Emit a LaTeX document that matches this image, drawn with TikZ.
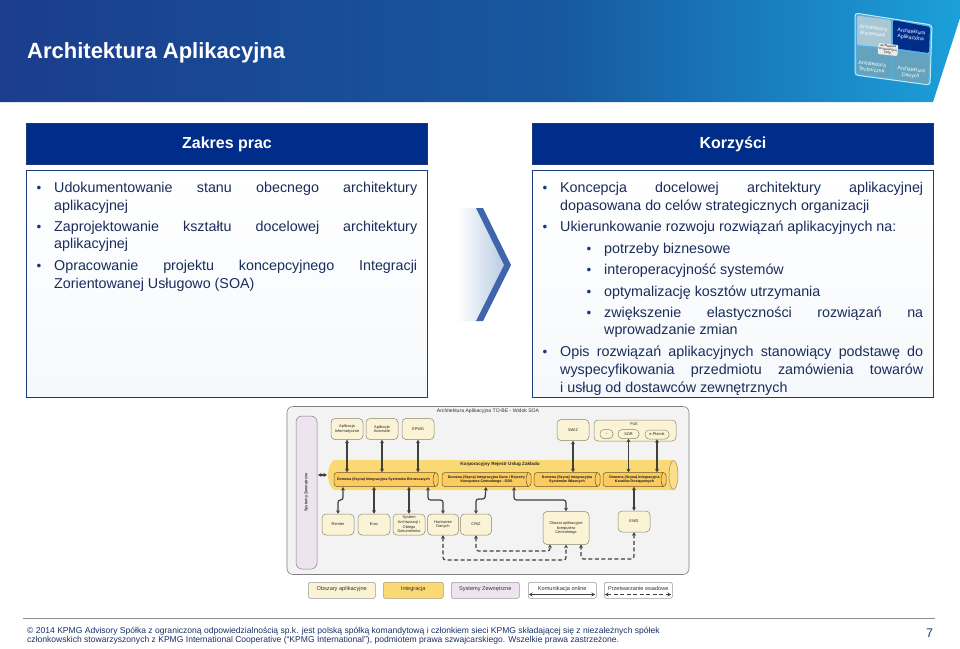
\documentclass[tikz,border=0pt]{standalone}
\usepackage{fontspec}
\setmainfont{Liberation Sans}
\usetikzlibrary{shapes.geometric,arrows.meta}
\definecolor{hdrA}{HTML}{1B3D8C}
\definecolor{hdrB}{HTML}{17589F}
\definecolor{hdrC}{HTML}{1BA0DA}
\definecolor{kpmg}{HTML}{002C8A}
\definecolor{bord}{HTML}{1E4A9E}
\definecolor{navy}{HTML}{1C3A78}
\definecolor{txt}{HTML}{1A2C5C}
\definecolor{appF}{HTML}{FBF3D6}
\definecolor{appD}{HTML}{8A8468}
\definecolor{intF}{HTML}{FAD873}
\definecolor{intD}{HTML}{6E5A20}
\definecolor{purF}{HTML}{EDE4F0}
\definecolor{panel}{HTML}{F3F3F3}
\tikzset{
 x=1pt,y=-1pt,
 hdrbox/.style={fill=kpmg,draw=navy,line width=.6pt,text=white,font=\fontsize{16}{18}\selectfont\bfseries,align=center},
 body/.style={anchor=base west,inner sep=0pt,text=txt,font=\fontsize{14.3}{17}\selectfont},
 bullet/.style={anchor=base,inner sep=0pt,text=navy,font=\fontsize{13.5}{14}\selectfont},
 app/.style={draw=appD,line width=.5pt,fill=appF,rounded corners=4pt,align=center,inner sep=0pt,font=\fontsize{3.9}{4.6}\selectfont,text=black!85},
 leg/.style={draw=black!40,line width=.5pt,rounded corners=1.5pt,inner sep=0pt,font=\fontsize{5.6}{6.5}\selectfont,text=black!80},
 dom/.style={draw=intD,line width=.5pt,fill=intF!85!orange,rounded corners=3pt,align=center,inner sep=0pt,font=\fontsize{3.6}{4.4}\selectfont\bfseries,text=black!90},
 conn/.style={draw=black!75,line width=1.2pt,{Stealth[length=3.5pt,width=4pt]}-{Stealth[length=3.5pt,width=4pt]},rounded corners=2.5pt},
 batch/.style={draw=black!75,line width=1.2pt,dash pattern=on 4pt off 2.5pt,{Stealth[length=3.5pt,width=4pt]}-{Stealth[length=3.5pt,width=4pt]},rounded corners=2.5pt},
 foot/.style={anchor=base west,inner sep=0pt,text=navy!85!black,font=\fontsize{8.55}{10}\selectfont},
 icon/.style={text=white,align=center,inner sep=0pt,font=\fontsize{5.2}{6}\selectfont,rotate=-6},
 capend/.style={draw=intD,line width=.5pt},
}
\newcommand{\just}[2]{\makebox[#1][s]{#2}}
\newcommand{\pbox}[5]{\node[app,minimum width=#3pt,minimum height=#4pt] (#1) at (#2) {#5};}
\begin{document}
\begin{tikzpicture}
\useasboundingbox (0,0) rectangle (960,648);
\fill[white] (0,0) rectangle (960,648);
% header band
\begin{scope}
\clip (0,0) -- (960,0) -- (960,18) -- (933,102) -- (0,102) -- cycle;
\shade[left color=hdrA,right color=hdrB] (0,0) rectangle (560,102);
\shade[left color=hdrB,right color=hdrC] (559.5,0) rectangle (960,102);
\end{scope}
\node[anchor=base west,inner sep=0pt,text=white,font=\fontsize{22}{26}\selectfont\bfseries] (title) at (27,58) {Architektura Aplikacyjna};
% icon
\path[fill=white,fill opacity=.25,draw=white!75!hdrC,line width=1pt,rounded corners=3pt] (855,13) -- (932,25) -- (930,85) -- (855,75) -- cycle;
\fill[rounded corners=1.5pt,fill=gray!55!hdrC!50!white] (857,15.5) -- (891,20) -- (891,48) -- (857,45) -- cycle;
\fill[rounded corners=1.5pt,fill=kpmg] (893,20) -- (930,27) -- (929,53) -- (893,48) -- cycle;
\fill[rounded corners=1.5pt,fill=hdrC!55!gray!85!white] (857,47) -- (891,50) -- (891,78) -- (857,73) -- cycle;
\fill[rounded corners=1.5pt,fill=hdrC!55!gray!85!white] (893,50) -- (929,55) -- (928,84) -- (893,79) -- cycle;
\node[icon] (i1) at (873,31) {Architektura\\Biznesowa};
\node[icon] (i2) at (911,35) {Architektura\\Aplikacyjna};
\node[icon] (i3) at (872,67) {Architektura\\Techniczna};
\node[icon] (i4) at (911,73) {Architektura\\Danych};
\node[fill=white!85!gray,rounded corners=1pt,align=center,inner sep=1pt,text=black,font=\fontsize{3}{3.4}\selectfont,rotate=-6] (i5) at (888,49.5) {Architektura\\Korporacyjna\\2020};
% columns
\node[hdrbox,minimum width=401pt,minimum height=41pt] (h1) at (227,144) {Zakres prac};
\node[hdrbox,minimum width=401pt,minimum height=41pt] (h2) at (733,144) {Korzyści};
\draw[navy,line width=1pt,top color=white,bottom color=hdrB!4] (26.5,170.5) rectangle (427.5,397.5);
\draw[navy,line width=1pt,top color=white,bottom color=hdrB!4] (532.5,170.5) rectangle (933.5,397.5);
% left text
\node[bullet] (b1) at (39,192) {•};
\node[body] (l1) at (54,192) {\just{363pt}{Udokumentowanie stanu obecnego architektury}};
\node[body] (l2) at (54,210) {aplikacyjnej};
\node[bullet] (b2) at (39,231) {•};
\node[body] (l3) at (54,231) {\just{363pt}{Zaprojektowanie kształtu docelowej architektury}};
\node[body] (l4) at (54,248) {aplikacyjnej};
\node[bullet] (b3) at (39,270) {•};
\node[body] (l5) at (54,270) {\just{363pt}{Opracowanie projektu koncepcyjnego Integracji}};
\node[body] (l6) at (54,288) {Zorientowanej Usługowo (SOA)};
% chevron
\shade[left color=white,right color=hdrB!30] (457,208) -- (476,208) -- (504,265) -- (476,321) -- (457,321) -- cycle;
\fill[bord!85!white] (476,208) -- (483,208) -- (511,265) -- (483,321) -- (476,321) -- (504,265) -- cycle;
% right text
\node[bullet] (r0) at (545,192) {•};
\node[body] (r1) at (560,192) {\just{363pt}{Koncepcja docelowej architektury aplikacyjnej}};
\node[body] (r2) at (560,210) {dopasowana do celów strategicznych organizacji};
\node[bullet] (r3b) at (545,231) {•};
\node[body] (r3) at (560,231) {Ukierunkowanie rozwoju rozwiązań aplikacyjnych na:};
\node[bullet] (r4b) at (589,253) {•};
\node[body] (r4) at (604,253) {potrzeby biznesowe};
\node[bullet] (r5b) at (589,274) {•};
\node[body] (r5) at (604,274) {interoperacyjność systemów};
\node[bullet] (r6b) at (589,296) {•};
\node[body] (r6) at (604,296) {optymalizację kosztów utrzymania};
\node[bullet] (r7b) at (589,317) {•};
\node[body] (r7) at (604,317) {\just{319pt}{zwiększenie elastyczności rozwiązań na}};
\node[body] (r8) at (604,334) {wprowadzanie zmian};
\node[bullet] (r9b) at (545,356) {•};
\node[body] (r9) at (560,356) {\just{363pt}{Opis rozwiązań aplikacyjnych stanowiący podstawę do}};
\node[body] (r10) at (560,374) {\just{363pt}{wyspecyfikowania przedmiotu zamówienia towarów}};
\node[body] (r11) at (560,392) {i usług od dostawców zewnętrznych};
% embedded diagram
\draw[black!50,line width=.6pt,fill=panel,rounded corners=6pt] (287,406.5) rectangle (689,574.5);
\node[inner sep=0pt,text=black!80,font=\fontsize{5.1}{6}\selectfont] (dtitle) at (488,411.5) {Architektura Aplikacyjna TO-BE - Widok SOA};
\node[draw=black!50,line width=.5pt,fill=purF,rounded corners=6pt,minimum width=21pt,minimum height=153pt,inner sep=0pt] (sys) at (306.5,492.5) {};
\node[rotate=90,inner sep=0pt,text=black!80,font=\fontsize{3.9}{4.6}\selectfont\bfseries] (syst) at (306.5,492.5) {Systemy Zewnętrzne};
% main bus
\path[fill=intF] (334,460) -- (673,460) .. controls (678,468) and (678,482) .. (673,490) -- (334,490) .. controls (326,484) and (326,466) .. (334,460) -- cycle;
\draw[intD!70,line width=.5pt,fill=intF!85!white] (673.5,475) ellipse [x radius=4.5,y radius=14.5];
\node[inner sep=0pt,text=black!85,font=\fontsize{4.6}{5.5}\selectfont\bfseries] (bus) at (500,464) {Korporacyjny Rejestr Usług Zakładu};
% domain nodes
\node[dom,minimum width=104pt,minimum height=14pt] (d1) at (386,479.5) {Domena (Szyna) Integracyjna Systemów Biznesowych\hspace{5pt}};
\node[dom,minimum width=89pt,minimum height=14pt] (d2) at (486.5,479.5) {Domena (Szyna) Integracyjna Dane i Rejestry\hspace{5pt}\\Komputera Centralnego - ODS\hspace{5pt}};
\node[dom,minimum width=66pt,minimum height=14pt] (d3) at (567,479.5) {Domena (Szyna) Integracyjna\hspace{3pt}\\Systemów Własnych\hspace{3pt}};
\node[dom,minimum width=63pt,minimum height=14pt] (d4) at (634.5,479.5) {Domena (Szyna) Integracyjna\hspace{5pt}\\Kanałów Dostępowych\hspace{5pt}};
\foreach \d in {d1,d2,d3,d4}{
 \draw[capend] ([xshift=-3pt]\d.north east) .. controls ([xshift=-6pt,yshift=-4pt]\d.north east) and ([xshift=-6pt,yshift=4pt]\d.south east) .. ([xshift=-3pt]\d.south east);
}
% top apps
\pbox{a1}{347,429}{32}{21}{Aplikacja\\Informatyczne}
\pbox{a2}{382,429}{32}{21}{Aplikacje\\Autorskie}
\pbox{a3}{418,429}{32}{21}{EPWD}
\pbox{a4}{573,430}{32}{21}{SWIZ}
\node[app,minimum width=82pt,minimum height=21pt] (pue) at (635,430.5) {};
\node[inner sep=0pt,text=black!80,font=\fontsize{3.9}{4.6}\selectfont] (puet) at (634,424) {PUE};
\pbox{p1}{606.5,434}{13}{9}{...}
\pbox{p2}{628.5,434}{21}{9}{SOR}
\pbox{p3}{657,434.5}{24}{9}{e-Płatnik}
% bottom apps
\pbox{c1}{338,524.5}{32}{21}{Rentier}
\pbox{c2}{374,524.5}{32}{21}{Eroz}
\pbox{c3}{409,524.5}{32}{21}{System\\Archiwizacji i\\Obiegu\\Dokumentów}
\pbox{c4}{443,524.5}{31}{21}{Hurtownie\\Danych}
\pbox{c5}{476,524.5}{31}{21}{CRIZ}
\pbox{c6}{566,528}{46}{33}{Obszar aplikacyjne\\komputera\\Centralnego}
\pbox{c7}{634,521.5}{32}{21}{EWD}
% online connections
\draw[conn] (a1.south) -- (a1.south |- d1.north);
\draw[conn] (a2.south) -- (a2.south |- d1.north);
\draw[conn] (a3.south) -- (a3.south |- d1.north);
\draw[conn] (a4.south) -- (a4.south |- d3.north);
\draw[conn] (p2.south) -- (p2.south |- d4.north);
\draw[conn] (p3.south) -- (p3.south |- d4.north);
\coordinate (e1) at (343,487); \coordinate (e4) at (428,487); \coordinate (e5) at (486,487); \coordinate (e6) at (514,487);
\draw[conn] (e1) -- (343,500) -- (338,500) -- (c1.north);
\draw[conn] (c2.north) -- (c2.north |- d1.south);
\draw[conn] (c3.north) -- (c3.north |- d1.south);
\draw[conn] (e4) -- (428,500) -- (443,500) -- (c4.north);
\draw[conn] (e5) -- (485,499) -- (476,499) -- (c5.north);
\draw[conn] (e6) -- (514,500) -- (566,500) -- (c6.north);
\draw[conn] (c7.north) -- (c7.north |- d4.south);
\coordinate (sa) at (318,475); \coordinate (sb) at (327,475);
\draw[conn] (sa) -- (sb);
% batch connections
\coordinate (o1) at (550,544.5); \coordinate (o2) at (581,544.5);
\draw[batch] (c4.south) -- (443,560) -- (566,560) -- (c6.south);
\draw[batch] (c5.south) -- (476,551) -- (550,551) -- (o1);
\draw[batch] (c7.south) -- (634,559) -- (581,559) -- (o2);
% legend
\node[leg,fill=appF,minimum width=67pt,minimum height=16pt,anchor=north west] (g1) at (308,582) {\raisebox{3.5pt}{Obszary aplikacyjne}};
\node[leg,fill=intF,draw=intD!60,minimum width=60pt,minimum height=16pt,anchor=north west] (g2) at (383,582) {\raisebox{3.5pt}{Integracja}};
\node[leg,fill=purF,minimum width=68pt,minimum height=16pt,anchor=north west] (g3) at (451,582) {\raisebox{3.5pt}{Systemy Zewnętrzne}};
\node[leg,fill=white,minimum width=68pt,minimum height=16pt,anchor=north west] (g4) at (528,582) {\raisebox{3.5pt}{Komunikacja online}};
\node[leg,fill=white,minimum width=68pt,minimum height=16pt,anchor=north west] (g5) at (604,582) {\raisebox{3.5pt}{Przetwarzanie wsadowe}};
\coordinate (g4a) at (529,594.5); \coordinate (g4b) at (595,594.5);
\coordinate (g5a) at (605,594.5); \coordinate (g5b) at (671,594.5);
\draw[conn] (g4a) -- (g4b);
\draw[batch] (g5a) -- (g5b);
% footer
\coordinate (fa) at (23,618.5); \coordinate (fb) at (935,618.5);
\draw[black!45,line width=.8pt] (fa) -- (fb);
\node[foot] (f1) at (27,633) {© 2014 KPMG Advisory Spółka z ograniczoną odpowiedzialnością sp.k. jest polską spółką komandytową i członkiem sieci KPMG składającej się z niezależnych spółek};
\node[foot] (f2) at (27,642) {członkowskich stowarzyszonych z KPMG International Cooperative (“KPMG International”), podmiotem prawa szwajcarskiego. Wszelkie prawa zastrzeżone.};
\node[anchor=base,inner sep=0pt,text=navy,font=\fontsize{12.5}{14}\selectfont] (pg) at (929.5,637) {7};
\end{tikzpicture}
\end{document}
